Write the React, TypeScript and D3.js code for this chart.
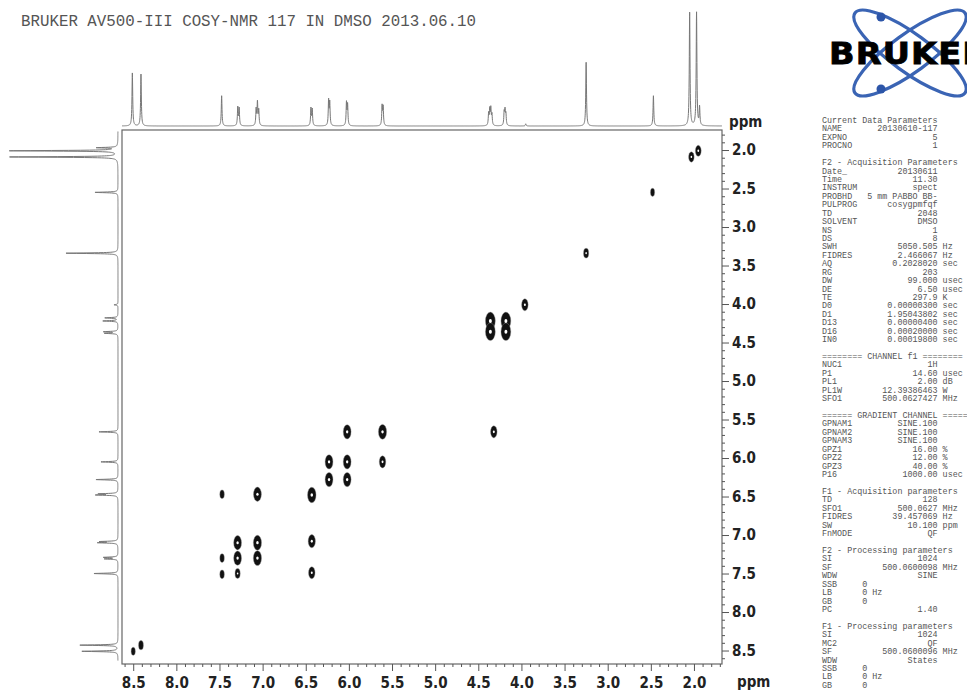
import { useEffect, useRef } from 'react';
import * as d3 from 'd3';

const TITLE = 'BRUKER AV500-III COSY-NMR 117 IN DMSO 2013.06.10';

// F2 projection (top trace): line positions in ppm and relative intensities
const f2Shifts = [8.51, 8.41, 7.475, 7.288, 7.272, 7.075, 7.06, 7.045, 6.44, 6.425, 6.235, 6.222, 6.028, 6.015,
  5.615, 5.603, 4.38, 4.367, 4.355, 4.342, 4.2, 4.19, 4.18, 3.95, 3.25, 2.47, 2.05, 1.97, 1.935];
const f2Heights = [49, 48, 28, 17, 16, 15, 21, 14, 16, 15, 23, 21, 21, 19,
  18, 17, 11, 14, 15, 10, 12, 13, 10, 2, 59, 28, 105, 105, 17];

// F1 projection (left trace)
const f1Shifts = [8.51, 8.43, 7.5, 7.31, 7.29, 7.1, 7.085, 6.48, 6.465, 6.28, 6.05, 5.66,
  4.38, 4.36, 4.22, 4.18, 4.01, 3.34, 2.55, 2.09, 2.01, 1.97];
const f1Heights = [36, 38, 24, 13, 14, 19, 17, 21, 18, 22, 17, 19,
  13, 14, 15, 13, 4, 52, 23, 108, 108, 20];

// COSY cross peaks: F2 (x) ppm, F1 (y) ppm, contour level
const crossF2 = [7.47, 7.06, 6.43, 6.02, 5.61, 4.32, 6.23, 6.02, 5.61, 6.23, 6.02, 7.29, 7.06, 6.43,
  7.47, 7.29, 7.06, 7.47, 7.29, 6.43, 8.5, 8.41, 4.36, 4.36, 4.18, 4.18, 3.96, 3.25, 2.48, 2.03, 1.95];
const crossF1 = [6.47, 6.47, 6.48, 5.66, 5.66, 5.66, 6.05, 6.05, 6.05, 6.28, 6.28, 7.1, 7.1, 7.08,
  7.3, 7.3, 7.3, 7.51, 7.5, 7.49, 8.51, 8.43, 4.22, 4.36, 4.22, 4.36, 4.01, 3.34, 2.55, 2.09, 2.01];
const crossLevel = [1, 2, 2.2, 2, 2.1, 1.6, 2, 2, 1.6, 2, 2, 2, 2.1, 1.8,
  1, 2, 2.1, 1, 1.2, 1.6, 0.9, 1.1, 2.6, 2.6, 2.6, 2.6, 1.6, 1.2, 0.9, 1.3, 1.4];

const majorTicks = [8.5, 8.0, 7.5, 7.0, 6.5, 6.0, 5.5, 5.0, 4.5, 4.0, 3.5, 3.0, 2.5, 2.0];

// acquisition / processing parameter listing
const paramLabels = ['Current Data Parameters', 'NAME', 'EXPNO', 'PROCNO', '',
  'F2 - Acquisition Parameters', 'Date_', 'Time', 'INSTRUM', 'PROBHD', 'PULPROG', 'TD', 'SOLVENT', 'NS', 'DS',
  'SWH', 'FIDRES', 'AQ', 'RG', 'DW', 'DE', 'TE', 'D0', 'D1', 'D13', 'D16', 'IN0', '',
  '======== CHANNEL f1 ========', 'NUC1', 'P1', 'PL1', 'PL1W', 'SFO1', '',
  '====== GRADIENT CHANNEL =====', 'GPNAM1', 'GPNAM2', 'GPNAM3', 'GPZ1', 'GPZ2', 'GPZ3', 'P16', '',
  'F1 - Acquisition parameters', 'TD', 'SFO1', 'FIDRES', 'SW', 'FnMODE', '',
  'F2 - Processing parameters', 'SI', 'SF', 'WDW', 'SSB', 'LB', 'GB', 'PC', '',
  'F1 - Processing parameters', 'SI', 'MC2', 'SF', 'WDW', 'SSB', 'LB', 'GB'];
const paramValues = ['', '20130610-117', '5', '1', '',
  '', '20130611', '11.30', 'spect', '5 mm PABBO BB-', 'cosygpmfqf', '2048', 'DMSO', '1', '8',
  '5050.505', '2.466067', '0.2028020', '203', '99.000', '6.50', '297.9', '0.00000300', '1.95043802', '0.00000400', '0.00020000', '0.00019800', '',
  '', '1H', '14.60', '2.00', '12.39386463', '500.0627427', '',
  '', 'SINE.100', 'SINE.100', 'SINE.100', '16.00', '12.00', '40.00', '1000.00', '',
  '', '128', '500.0627', '39.457069', '10.100', 'QF', '',
  '', '1024', '500.0600098', 'SINE', '0', '0', '0', '1.40', '',
  '', '1024', 'QF', '500.0600096', 'States', '0', '0', '0'];
const paramUnits = ['', '', '', '', '',
  '', '', '', '', '', '', '', '', '', '',
  'Hz', 'Hz', 'sec', '', 'usec', 'usec', 'K', 'sec', 'sec', 'sec', 'sec', 'sec', '',
  '', '', 'usec', 'dB', 'W', 'MHz', '',
  '', '', '', '', '%', '%', '%', 'usec', '',
  '', '', 'MHz', 'Hz', 'ppm', '', '',
  '', '', 'MHz', '', '', 'Hz', '', '', '',
  '', '', '', 'MHz', '', '', 'Hz', ''];

const W = 967;
const H = 691;
const LINE_W = 0.005;

function trace(shifts: number[], heights: number[]) {
  const grid = d3.range(8.63, 1.675, -0.0015).concat(shifts).sort((a, b) => b - a);
  return grid.map(p => [p, d3.sum(shifts, (s, i) => heights[i] / (1 + ((p - s) / LINE_W) ** 2))] as [number, number]);
}

export default function App() {
  const svgRef = useRef<SVGSVGElement>(null);

  useEffect(() => {
    if (!svgRef.current) return;
    const svg = d3.select(svgRef.current);
    svg.selectAll('*').remove();

    const frame = { left: 122, right: 722, top: 130, bottom: 664 };
    const x = d3.scaleLinear().domain([8.63, 1.675]).range([frame.left, frame.right]);
    const y = d3.scaleLinear().domain([1.74, 8.675]).range([frame.top, frame.bottom]);

    svg.append('rect').attr('width', W).attr('height', H).attr('fill', '#fff');

    // title
    svg.append('text')
      .attr('x', 21).attr('y', 26)
      .attr('font-family', "'Liberation Mono', 'DejaVu Sans Mono', monospace")
      .attr('font-size', 15.8)
      .attr('fill', '#555')
      .text(TITLE);

    const clip = svg.append('defs').append('clipPath').attr('id', 'page');
    clip.append('rect').attr('width', W).attr('height', H);

    // top projection
    const topI = d3.scaleLinear().domain([0, 100]).range([126, 18]);
    const topLine = d3.line<[number, number]>().x(d => x(d[0])).y(d => topI(d[1]));
    svg.append('path')
      .attr('d', topLine(trace(f2Shifts, f2Heights)))
      .attr('fill', 'none').attr('stroke', '#777').attr('stroke-width', 1);

    // left projection
    const leftI = d3.scaleLinear().domain([0, 100]).range([118, 18]);
    const leftLine = d3.line<[number, number]>().x(d => leftI(d[1])).y(d => y(d[0]));
    svg.append('path')
      .attr('d', leftLine(trace(f1Shifts, f1Heights).filter(d => d[0] <= 8.64 && d[0] >= 1.76)))
      .attr('clip-path', 'url(#page)')
      .attr('fill', 'none').attr('stroke', '#777').attr('stroke-width', 1);

    // frame
    svg.append('rect')
      .attr('x', frame.left).attr('y', frame.top)
      .attr('width', frame.right - frame.left).attr('height', frame.bottom - frame.top)
      .attr('fill', 'none').attr('stroke', '#666').attr('stroke-width', 1.2);

    // cross peaks
    const rx = d3.scaleLinear().domain([0, 3]).range([0.6, 5.6]);
    const ry = d3.scaleLinear().domain([0, 3]).range([1.5, 10]);
    const peaks = d3.range(crossF2.length);
    const g = svg.append('g');
    g.selectAll('.cp')
      .data(peaks)
      .enter()
      .append('ellipse')
      .attr('cx', i => x(crossF2[i]))
      .attr('cy', i => y(crossF1[i]))
      .attr('rx', i => rx(crossLevel[i]))
      .attr('ry', i => ry(crossLevel[i]))
      .attr('fill', '#111')
      .attr('stroke', '#999')
      .attr('stroke-opacity', 0.4)
      .attr('stroke-width', 1);
    g.selectAll('.hole')
      .data(peaks.filter(i => crossLevel[i] >= 1.2))
      .enter()
      .append('ellipse')
      .attr('cx', i => x(crossF2[i]))
      .attr('cy', i => y(crossF1[i]))
      .attr('rx', i => rx(crossLevel[i]) * 0.3)
      .attr('ry', i => ry(crossLevel[i]) * 0.22)
      .attr('fill', '#fff');

    // axes
    const minorTicks = d3.range(86, 16, -1).map(v => v / 10).filter(v => !majorTicks.includes(v));
    const fmt = d3.format('.1f');
    const labelFont = "'Liberation Sans Narrow', 'DejaVu Sans Condensed', 'Liberation Sans', Arial, sans-serif";

    const bottom = svg.append('g').attr('transform', `translate(0,${frame.bottom})`);
    bottom.call(d3.axisBottom(x).tickValues(minorTicks).tickSize(3).tickFormat(() => ''));
    const bottomMajor = svg.append('g').attr('transform', `translate(0,${frame.bottom})`);
    bottomMajor.call(d3.axisBottom(x).tickValues(majorTicks).tickSize(7).tickPadding(6).tickFormat(d => fmt(+d)));

    const right = svg.append('g').attr('transform', `translate(${frame.right},0)`);
    right.call(d3.axisRight(y).tickValues(minorTicks.filter(v => v >= 1.8)).tickSize(3).tickFormat(() => ''));
    const rightMajor = svg.append('g').attr('transform', `translate(${frame.right},0)`);
    rightMajor.call(d3.axisRight(y).tickValues(majorTicks).tickSize(7).tickPadding(3).tickFormat(d => fmt(+d)));

    svg.selectAll('.domain').remove();
    svg.selectAll('.tick line').attr('stroke', '#555');
    svg.selectAll('.tick text')
      .attr('font-family', labelFont)
      .attr('font-weight', 'bold')
      .attr('font-size', 15)
      .attr('fill', '#222');

    svg.append('text').attr('x', 737).attr('y', 687)
      .attr('font-family', labelFont).attr('font-weight', 'bold').attr('font-size', 15).attr('fill', '#222')
      .text('ppm');
    svg.append('text').attr('x', 729).attr('y', 127)
      .attr('font-family', labelFont).attr('font-weight', 'bold').attr('font-size', 15).attr('fill', '#222')
      .text('ppm');

    // logo
    const logo = svg.append('g');
    const cx = 910, cy = 53;
    [-36, 36].forEach(a => {
      logo.append('ellipse')
        .attr('cx', cx).attr('cy', cy).attr('rx', 68).attr('ry', 19)
        .attr('transform', `rotate(${a},${cx},${cy})`)
        .attr('fill', 'none').attr('stroke', '#3a64b4').attr('stroke-width', 3.2);
    });
    [[881, 17], [881, 89]].forEach(([px, py]) => {
      logo.append('circle').attr('cx', px).attr('cy', py).attr('r', 4.5).attr('fill', '#2c55a8');
    });
    logo.append('text')
      .attr('transform', 'translate(829,64) scale(1.12,1)')
      .attr('font-family', "'DejaVu Sans', 'Liberation Sans', sans-serif")
      .attr('font-weight', 'bold')
      .attr('font-size', 30)
      .attr('letter-spacing', 1)
      .attr('fill', '#000')
      .attr('stroke', '#000')
      .attr('stroke-width', 0.8)
      .text('BRUKER');

    // parameter listing
    const mono = "'Liberation Mono', 'DejaVu Sans Mono', monospace";
    const lineY = d3.scaleLinear().domain([0, 1]).range([123, 131.43]);
    const colX = (c: number) => 822 + c * 5.04;
    const params = svg.append('g')
      .attr('font-family', mono).attr('font-size', 8.4).attr('fill', '#555');
    paramLabels.forEach((label, i) => {
      if (!label) return;
      const row = params.append('text').attr('y', lineY(i)).attr('xml:space', 'preserve');
      const val = paramValues[i];
      const unit = paramUnits[i];
      if (!val) {
        row.attr('x', colX(0)).text(label);
      } else if (label === 'SSB' || label === 'LB' || label === 'GB') {
        row.attr('x', colX(0)).text(label.padEnd(8, ' ') + val + (unit ? ' ' + unit : ''));
      } else {
        const left = label.padEnd(23 - val.length, ' ') + val + (unit ? ' ' + unit : '');
        row.attr('x', colX(0)).text(left);
      }
    });
  }, []);

  return (
    <svg
      ref={svgRef}
      width={W}
      height={H}
      style={{ position: 'absolute', left: 0, top: 0, display: 'block' }}
    />
  );
}
